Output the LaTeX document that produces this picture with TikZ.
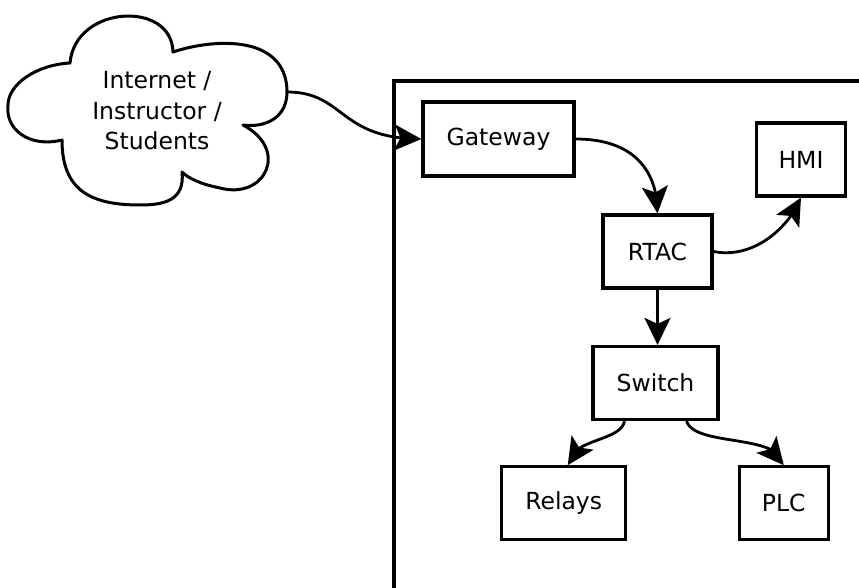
\documentclass[tikz,border=0pt]{standalone}
\usepackage{fontspec}
\setmainfont{DejaVu Sans}
\usetikzlibrary{arrows.meta,calc,bending}
\begin{document}
\begin{tikzpicture}[x=1pt,y=-1pt,
  txt/.style={font=\fontsize{23.5}{30.5}\selectfont},
  box/.style={draw, line width=3.2pt, inner sep=0pt, minimum height=73pt, txt},
  conn/.style={line width=2.8pt, -{Stealth[length=27pt,width=26pt,inset=6pt,flex]}},
]
\useasboundingbox (0,0) rectangle (859,588);
% outer frame (cropped at the right and bottom)
\draw[line width=3.2pt] (394,620) -- (394,81) -- (900,81);
% cloud
\draw[line width=3pt, line join=round]
  (70,63) .. controls (75,5) and (172,0) .. (173,52)
  .. controls (215,38) and (285,35) .. (287,90)
  .. controls (288,118) and (265,128) .. (243,125)
  .. controls (290,150) and (265,200) .. (220,188)
  .. controls (200,184) and (188,178) .. (182,172)
  .. controls (185,200) and (165,205) .. (140,205)
  .. controls (90,205) and (62,190) .. (62,140)
  .. controls (30,148) and (5,130) .. (8,105)
  .. controls (8,85) and (35,65) .. (70,63) -- cycle;
\node[txt, align=center] (cloud) at (157,111) {Internet /\\Instructor /\\Students};
\coordinate (cloudR) at (287,92);
% boxes
\node[box, minimum width=151pt, minimum height=74pt] (gateway) at (498.5,139) {Gateway};
\node[box, minimum width=89pt] (hmi) at (801,159.5) {HMI};
\node[box, minimum width=109pt] (rtac) at (657.5,251.5) {RTAC};
\node[box, minimum width=125pt] (switch) at (655.5,383) {Switch};
\node[box, minimum width=124pt] (relays) at (563.7,503.3) {Relays};
\node[box, minimum width=89pt] (plc) at (783.8,503.3) {PLC};
% connectors
\draw[conn] (cloudR) .. controls +(58,0) and +(-83,0) .. (gateway.west);
\draw[conn] (gateway.east) .. controls +(56,0) and +(0,-45) .. (rtac.north);
\draw[conn] (rtac.east) .. controls +(40,8) and +(-12,30) .. (hmi.south);
\draw[conn] (rtac.south) -- (rtac.south |- switch.north);
\draw[conn] ($(switch.south)+(-31,0)$) .. controls +(-4,21) and +(2,-27) .. ($(relays.north)+(4,0)$);
\draw[conn] ($(switch.south)+(31,0)$) .. controls +(8,26) and +(-3,-32) .. (plc.north);
\end{tikzpicture}
\end{document}
